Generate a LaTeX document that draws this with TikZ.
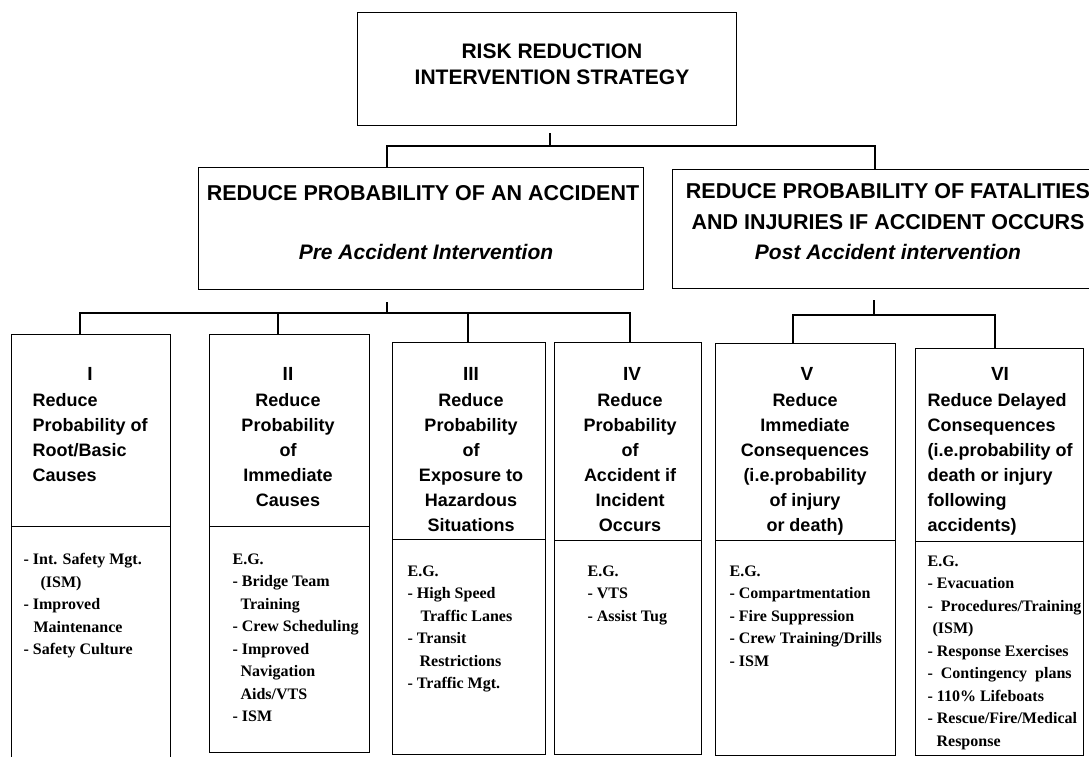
\documentclass[tikz,border=0pt]{standalone}
\usepackage{fontspec}
\setmainfont{Liberation Serif}
\setsansfont{Liberation Sans}
\usepackage{tikz}
\usetikzlibrary{positioning}

\begin{document}
\begin{tikzpicture}[x=1pt, y=-1pt, line width=1.2pt,
    box/.style={draw, rectangle, inner sep=0pt, anchor=north west},
    title/.style={font=\sffamily\bfseries\fontsize{21.5}{30.5}\selectfont, inner sep=0pt, align=center},
    colhead/.style={font=\sffamily\bfseries\fontsize{18}{25}\selectfont, inner sep=0pt},
    colitems/.style={font=\bfseries\fontsize{16}{22.5}\selectfont, inner sep=0pt, anchor=north west, align=left}]

    \useasboundingbox (0,0) rectangle (1089,756);
    \clip (0,0) rectangle (1089,756);

    % --- boxes ---
    \node[box, minimum width=379, minimum height=113] (risk) at (357,12) {};
    \node[box, minimum width=445, minimum height=122] (pre) at (198,167) {};
    \node[box, minimum width=434, minimum height=119] (post) at (672,169) {};

    % columns: name / left / width / top / divider / bottom
    \foreach \n/\x/\w/\t/\d/\b in {c1/11/159/334/526/770, c2/209/160/334/526/752,
        c3/392/153/342/539/754, c4/554/147/342/540/754,
        c5/715/180/343/540/755, c6/915/168/348/541/755} {
        \node[box, minimum width=\w, minimum height=\d-\t] (\n-h) at (\x,\t) {};
        \node[box, minimum width=\w, minimum height=\b-\d] (\n-b) at (\x,\d) {};
    }

    % --- connectors ---
    \draw (550,133) -- (550,146);
    \draw (pre.north -| 387,0) |- (875,146) -- (post.north -| 875,0);

    \draw (387,302) -- (387,313);
    \draw (c1-h.north -| 80,0) |- (630,313) -- (c4-h.north -| 630,0);
    \draw (278,313) -- (c2-h.north -| 278,0);
    \draw (468,313) -- (c3-h.north -| 468,0);

    \draw (874,300) -- (874,315);
    \draw (c5-h.north -| 793,0) |- (995,315) -- (c6-h.north -| 995,0);

    % --- titles ---
    \node[title, font=\sffamily\bfseries\fontsize{21}{26}\selectfont] (riskT) at (552,64)
        {RISK REDUCTION\\INTERVENTION STRATEGY};
    \node[title] (preT) at (423,193) {REDUCE PROBABILITY OF AN ACCIDENT};
    \node[title, font=\sffamily\bfseries\itshape\fontsize{21}{25}\selectfont] (preS) at (426,252)
        {Pre Accident Intervention};
    \node[title] (postT) at (888,222)
        {REDUCE PROBABILITY OF FATALITIES\\AND INJURIES IF ACCIDENT OCCURS\\{\itshape\fontsize{21}{30.5}\selectfont Post Accident intervention}};

    % --- column headings ---
    \foreach \r/\x in {I/90, II/288, III/471, IV/632, V/807, VI/1000}
        \node[colhead, font=\sffamily\bfseries\fontsize{19}{25}\selectfont] (num-\r) at (\x,374) {\r};

    \node[colhead, anchor=north west, align=left] (c1-t) at (32,393)
        {Reduce\\Probability of\\Root/Basic\\Causes};
    \node[colhead, anchor=north, align=center] (c2-t) at (288,393)
        {Reduce\\Probability\\of\\Immediate\\Causes};
    \node[colhead, anchor=north, align=center] (c3-t) at (471,393)
        {Reduce\\Probability\\of\\Exposure to\\Hazardous\\Situations};
    \node[colhead, anchor=north, align=center] (c4-t) at (630,393)
        {Reduce\\Probability\\of\\Accident if\\Incident\\Occurs};
    \node[colhead, anchor=north, align=center] (c5-t) at (805,393)
        {Reduce\\Immediate\\Consequences\\(i.e.probability\\of injury\\or death)};
    \node[colhead, anchor=north west, align=left] (c6-t) at (927,393)
        {Reduce Delayed\\Consequences\\(i.e.probability of\\death or injury\\following\\accidents)};

    % --- examples ---
    \node[colitems] (c1-l) at (23,553)
        {- Int. Safety Mgt.\\\hspace*{17pt}(ISM)\\- Improved\\\hspace*{10pt}Maintenance\\- Safety Culture};
    \node[colitems] (c2-l) at (232,553)
        {E.G.\\- Bridge Team\\\hspace*{8pt}Training\\- Crew Scheduling\\- Improved\\\hspace*{8pt}Navigation\\\hspace*{8pt}Aids/VTS\\- ISM};
    \node[colitems] (c3-l) at (407,565)
        {E.G.\\- High Speed\\\hspace*{13pt}Traffic Lanes\\- Transit\\\hspace*{12pt}Restrictions\\- Traffic Mgt.};
    \node[colitems] (c4-l) at (587,565)
        {E.G.\\- VTS\\- Assist Tug};
    \node[colitems] (c5-l) at (729,565)
        {E.G.\\- Compartmentation\\- Fire Suppression\\- Crew Training/Drills\\- ISM};
    \node[colitems] (c6-l) at (927,555)
        {E.G.\\- Evacuation\\-~ Procedures/Training\\\hspace*{5pt}(ISM)\\- Response Exercises\\-~ Contingency~ plans\\- 110\% Lifeboats\\- Rescue/Fire/Medical\\\hspace*{9pt}Response};

\end{tikzpicture}
\end{document}
